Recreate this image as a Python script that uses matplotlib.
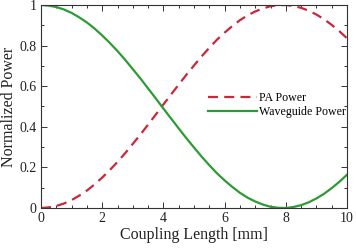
import matplotlib
matplotlib.use("Agg")
import matplotlib.pyplot as plt
from matplotlib.ticker import MultipleLocator

length_mm = [0.0, 0.25, 0.5, 0.75, 1.0, 1.25, 1.5, 1.75, 2.0, 2.25, 2.5, 2.75,
             3.0, 3.25, 3.5, 3.75, 4.0, 4.25, 4.5, 4.75, 5.0, 5.25, 5.5, 5.75,
             6.0, 6.25, 6.5, 6.75, 7.0, 7.25, 7.5, 7.75, 8.0, 8.25, 8.5, 8.75,
             9.0, 9.25, 9.5, 9.75, 10.0]
pa_power = [0.000, 0.003, 0.010, 0.022, 0.039, 0.061, 0.086, 0.116, 0.150,
            0.187, 0.227, 0.270, 0.316, 0.362, 0.411, 0.460, 0.510, 0.559,
            0.608, 0.656, 0.702, 0.747, 0.789, 0.829, 0.864, 0.896, 0.925,
            0.949, 0.968, 0.983, 0.994, 0.999, 1.000, 0.995, 0.986, 0.972,
            0.953, 0.930, 0.902, 0.871, 0.836]
wg_power = [1.000, 0.997, 0.990, 0.978, 0.961, 0.939, 0.914, 0.884, 0.850,
            0.813, 0.773, 0.730, 0.684, 0.638, 0.589, 0.540, 0.490, 0.441,
            0.392, 0.344, 0.298, 0.253, 0.211, 0.171, 0.136, 0.104, 0.075,
            0.051, 0.032, 0.017, 0.006, 0.001, 0.000, 0.005, 0.014, 0.028,
            0.047, 0.070, 0.098, 0.129, 0.164]

plt.rcParams['font.family'] = ['Liberation Serif', 'DejaVu Serif']
plt.rcParams['mathtext.fontset'] = 'stix'

fig = plt.figure(figsize=(3.56, 2.49), dpi=100)
ax = fig.add_axes([41/356, 41/249, 306/356, 203/249])

ax.plot(length_mm, pa_power, color='#c8283a', lw=1.6, ls=(0, (4.5, 2.8)), label='PA Power')
ax.plot(length_mm, wg_power, color='#2e9a35', lw=1.6, label='Waveguide Power')

ax.set_xlim(0, 10)
ax.set_ylim(0, 1)
ax.xaxis.set_major_locator(MultipleLocator(2))
ax.xaxis.set_minor_locator(MultipleLocator(0.5))
ax.yaxis.set_major_locator(MultipleLocator(0.2))
ax.yaxis.set_minor_locator(MultipleLocator(0.1))
ax.set_yticks([0, 0.2, 0.4, 0.6, 0.8, 1.0])
ax.set_yticklabels(['0', '0.2', '0.4', '0.6', '0.8', '1'])
ax.tick_params(which='both', direction='in', top=True, right=True, colors='#333333',
               labelcolor='#222222', labelsize=10, width=0.7)
ax.tick_params(which='major', length=4, pad=3)
ax.tick_params(which='minor', length=2)
for s in ax.spines.values():
    s.set_color('#333333')
    s.set_linewidth(0.8)

ax.set_xlabel('Coupling Length [mm]', fontsize=11.5, color='#222222', labelpad=1)
ax.set_ylabel('Normalized Power', fontsize=11.5, color='#222222', labelpad=2)

ax.legend(loc='upper left', bbox_to_anchor=(0.546, 0.57), frameon=False,
          fontsize=8.6, handlelength=4.1, handletextpad=0.2, borderpad=0,
          borderaxespad=0, labelspacing=0.15)

fig.savefig('out.png', dpi=100)
